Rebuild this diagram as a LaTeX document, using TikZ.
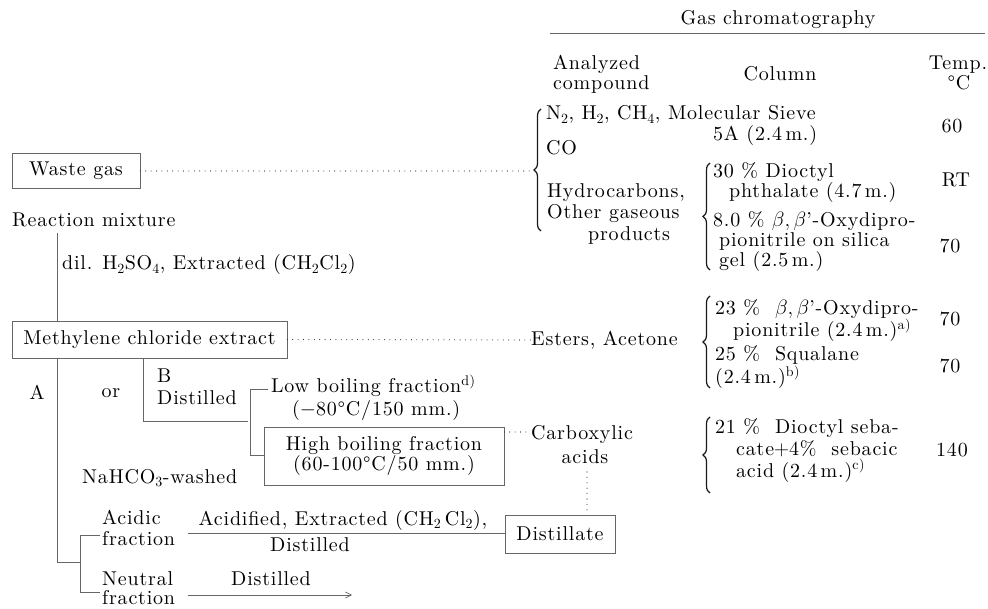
\documentclass[tikz,border=0pt]{standalone}
\usepackage{fontspec}
\setmainfont{lmroman10-regular.otf}[LetterSpace=4, ItalicFont=lmroman10-italic.otf, BoldFont=lmroman10-bold.otf]
\usetikzlibrary{decorations.pathreplacing,arrows.meta}
\newcommand\chsub[1]{\textsubscript{#1}}
\newcommand\fnmark[1]{\textsuperscript{#1)}}
\tikzset{
  every node/.style={font=\fontsize{20}{20}\selectfont, inner sep=0pt, text=black},
  lbl/.style={anchor=base west},
  ctr/.style={anchor=base},
  rgt/.style={anchor=base east},
  procbox/.style={draw=black!60, line width=0.6pt, align=center},
  flow/.style={draw=black!60, line width=0.6pt},
  dots/.style={draw=black!85, line width=1.1pt, line cap=round, dash pattern=on 0pt off 5.4pt},
  gcbrace/.style={draw=black!90, line width=1.2pt, decorate, decoration={brace, amplitude=7pt}},
}
\begin{document}
\begin{tikzpicture}[x=1pt,y=-1pt]
\useasboundingbox (0,0) rectangle (988,609);

% ---------- header ----------
\node[ctr] (gc) at (778,25) {Gas chromatography};
\coordinate (r1) at (550,33);
\coordinate (r2) at (985,33);
\draw[flow] (r1) -- (r2);
\node[lbl] (an1) at (553,70) {Analyzed};
\node[lbl] (an2) at (553,90) {compound};
\node[ctr] (col) at (780,81) {Column};
\node[ctr] (tp1) at (958,70) {Temp.};
\node[ctr] (tp2) at (959,90) {°C};

% ---------- waste gas ----------
\node[procbox, minimum width=128pt, minimum height=35pt] (waste) at (76,171) {Waste gas};
\coordinate (b1tip) at (531,171);
\draw[dots] (waste.east) -- (b1tip);
\draw[gcbrace] (541,231) -- (541,109);

\node[lbl] (l1) at (546,120) {N\chsub{2}, H\chsub{2}, CH\chsub{4}, Molecular Sieve};
\node[lbl] (l2) at (713,141) {5A (2.4\,m.)};
\node[lbl] (l3) at (546,155) {CO};
\node[ctr] (t60) at (952,133) {60};

\node[lbl] (h1) at (547,198) {Hydrocarbons,};
\node[lbl] (h2) at (547,219) {Other gaseous};
\node[lbl] (h3) at (588,241) {products};

\draw[gcbrace] (710,270) -- (710,163);
\node[lbl] (d1) at (713,178) {30 \% Dioctyl};
\node[lbl] (d2) at (729,198) {phthalate (4.7\,m.)};
\node[ctr] (trt) at (956,187) {RT};
\node[lbl] (o1) at (713,227) {8.0 \% $\beta,\beta$'-Oxydipro-};
\node[lbl] (o2) at (719,247) {pionitrile on silica};
\node[lbl] (o3) at (719,267) {gel (2.5\,m.)};
\node[ctr] (t70a) at (950,253) {70};

% ---------- reaction mixture ----------
\node[lbl] (rm) at (12,227) {Reaction mixture};
\coordinate (v1) at (57,233);
\node[lbl] (dil) at (62,270) {dil. H\chsub{2}SO\chsub{4}, Extracted (CH\chsub{2}Cl\chsub{2})};
\node[procbox, minimum width=275pt, minimum height=37pt] (meth) at (149.5,339.5) {Methylene chloride extract};
\draw[flow] (v1) -- (v1 |- meth.north);

\node[anchor=west] (est) at (531,340) {Esters, Acetone};
\draw[dots] (meth.east) -- (est.west);

\draw[gcbrace] (710,388) -- (710,296);
\node[lbl] (e1) at (715,315) {23 \% \ $\beta,\beta$'-Oxydipro-};
\node[lbl] (e2) at (733,337) {pionitrile (2.4\,m.)\fnmark{a}};
\node[ctr] (t70b) at (950,326) {70};
\node[lbl] (e3) at (715,361) {25 \% \ Squalane};
\node[lbl] (e4) at (715,384) {(2.4\,m.)\fnmark{b}};
\node[ctr] (t70c) at (950,373) {70};

% ---------- route A / B ----------
\node (la) at (37,392) {A};
\node (lor) at (111,393) {or};
\coordinate (aA) at (57,562);
\coordinate (aB) at (80,562);
\draw[flow] (meth.south -| aA) -- (aA) -- (aB);

\coordinate (bB) at (143,421);
\coordinate (bE) at (248,421);
\draw[flow] (meth.south -| bB) -- (bB) -- (bE);
\node[lbl] (lb) at (157,383) {B};
\node[lbl] (ldist) at (157,405) {Distilled};

\node[procbox, minimum width=240pt, minimum height=58pt] (high) at (384,456) {High boiling fraction\\(60-100°C/50 mm.)};
\node[lbl] (low1) at (271,393) {Low boiling fraction\fnmark{d}};
\node[lbl] (low2) at (292,416) {($-$80°C/150 mm.)};
\coordinate (k1) at (268,389);
\coordinate (k2) at (250,389);
\coordinate (k3) at (250,455);
\draw[flow] (k1) -- (k2) -- (k3) -- (k3 -| high.west);

\node[lbl] (carb) at (531,439) {Carboxylic};
\node[ctr] (acids) at (585,463) {acids};
\draw[dots] (high.east |- 0,432) -- (527,432);

\node[procbox, minimum width=110pt, minimum height=38pt] (dist) at (560,534) {Distillate};
\coordinate (ac1) at (587,472);
\draw[dots] (ac1) -- (ac1 |- dist.north);

\node[lbl] (naw) at (82,483) {NaHCO\chsub{3}-washed};

\node[lbl] (acd1) at (102,524) {Acidic};
\node[lbl] (acd2) at (102,545) {fraction};
\node[lbl] (neu1) at (102,585) {Neutral};
\node[lbl] (neu2) at (102,604) {fraction};
\coordinate (q1) at (100,535);
\coordinate (q2) at (80,535);
\coordinate (q3) at (80,592);
\coordinate (q4) at (100,592);
\draw[flow] (q1) -- (q2) -- (q3) -- (q4);

\coordinate (al) at (188,533);
\draw[flow] (al) -- (al -| dist.west);
\node[ctr] (acl1) at (343,525) {Acidified, Extracted (CH\chsub{2}\,Cl\chsub{2}),};
\node[ctr] (acl2) at (310,551) {Distilled};

\coordinate (nl1) at (188,595);
\coordinate (nl2) at (352,595);
\draw[flow, -{Straight Barb[length=6pt,width=6pt]}] (nl1) -- (nl2);
\node[ctr] (nlab) at (271,585) {Distilled};

% ---------- carboxylic acids column ----------
\draw[gcbrace] (710,493) -- (710,417);
\node[lbl] (c1) at (715,433) {21 \% \ Dioctyl seba-};
\node[lbl] (c2) at (736,455) {cate$+$4\% \ sebacic};
\node[lbl] (c3) at (736,477) {acid (2.4\,m.)\fnmark{c}};
\node[ctr] (t140) at (952,456) {140};
\end{tikzpicture}
\end{document}
